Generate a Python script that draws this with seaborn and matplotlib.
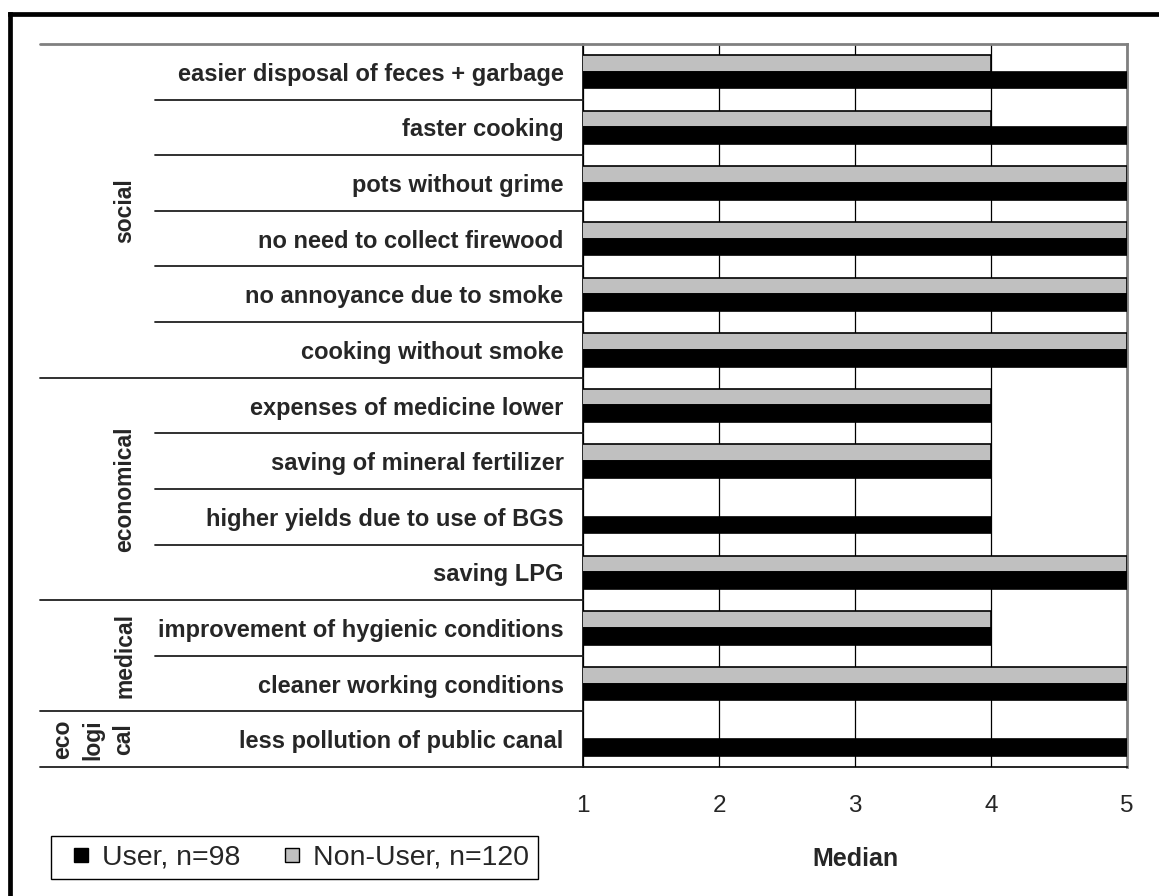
import numpy as np
import pandas as pd
import matplotlib
matplotlib.use("Agg")
import matplotlib.pyplot as plt
import matplotlib.transforms as mtransforms
from matplotlib.lines import Line2D
import seaborn as sns

# Data (top to bottom as in the chart)
items = [
    "easier disposal of feces + garbage",
    "faster cooking",
    "pots without grime",
    "no need to collect firewood",
    "no annoyance due to smoke",
    "cooking without smoke",
    "expenses of medicine lower",
    "saving of mineral fertilizer",
    "higher yields due to use of BGS",
    "saving LPG",
    "improvement of hygienic conditions",
    "cleaner working conditions",
    "less pollution of public canal",
]
groups = ["social", "economical", "medical", "eco\nlogi\ncal"]
group_sizes = [6, 4, 2, 1]
user_median = [5, 5, 5, 5, 5, 5, 4, 4, 4, 5, 4, 5, 5]
nonuser_median = [4, 4, 5, 5, 5, 5, 4, 4, np.nan, 5, 4, 5, np.nan]
user_label = "User, n=98"
nonuser_label = "Non-User, n=120"
x_ticks = [1, 2, 3, 4, 5]

# Style
sns.set_style("white")
plt.rcParams['font.family'] = ['Liberation Sans', 'DejaVu Sans']

df = pd.concat([
    pd.DataFrame({'item': items, 'Median': nonuser_median, 'who': nonuser_label}),
    pd.DataFrame({'item': items, 'Median': user_median, 'who': user_label}),
], ignore_index=True).dropna()

W, H = 1159, 896
fig = plt.figure(figsize=(W / 100, H / 100), dpi=100)
ax = fig.add_axes([583 / W, 1 - 767 / H, (1127 - 583) / W, (767 - 44) / H])

sns.barplot(data=df, y='item', x='Median', hue='who', order=items,
            hue_order=[nonuser_label, user_label],
            palette={nonuser_label: '#C0C0C0', user_label: 'black'},
            orient='h', width=0.6, gap=0, errorbar=None,
            edgecolor='black', linewidth=1.2, legend=False, ax=ax, zorder=3)

ax.set_xlim(1, 5)
ax.set_ylim(len(items) - 0.5, -0.5)
ax.set_xticks(x_ticks)
ax.set_xticklabels([str(t) for t in x_ticks], fontsize=17.5)
ax.xaxis.grid(True, color='black', linewidth=0.9)
ax.yaxis.grid(False)
ax.set_axisbelow(True)

ax.tick_params(axis='x', direction='out', length=6.5, width=1, color='black', pad=13.5)
ax.tick_params(axis='y', length=0, pad=14)
for lab in ax.get_yticklabels():
    lab.set_fontweight('bold')
    lab.set_fontsize(17)
ax.set_ylabel("")
ax.set_xlabel("Median", fontsize=18, fontweight='bold', labelpad=22)

for side in ['left', 'bottom']:
    ax.spines[side].set_color('black')
    ax.spines[side].set_linewidth(1.2)
for side in ['top', 'right']:
    ax.spines[side].set_color('#808080')
    ax.spines[side].set_linewidth(2)

# Separator lines and group labels left of the axis
trans = mtransforms.blended_transform_factory(fig.transFigure, ax.transData)
x_axis = 583 / W
x_item = 155 / W
x_group = 40 / W
start = 0
for g, n in zip(groups, group_sizes):
    top = start - 0.5
    bottom = start + n - 0.5
    color = '#808080' if start == 0 else '#202020'
    fig.add_artist(Line2D([x_group, x_axis], [top, top], transform=trans,
                          color=color, lw=2 if start == 0 else 1.3))
    for k in range(1, n):
        yy = start + k - 0.5
        fig.add_artist(Line2D([x_item, x_axis], [yy, yy], transform=trans,
                              color='#202020', lw=1.3))
    xc = 93 / W if '\n' in g else 125 / W
    fig.text(xc, (top + bottom) / 2, g, transform=trans, rotation=90,
             ha='center', va='center', fontsize=16.5, fontweight='bold',
             linespacing=1.4)
    start += n
fig.add_artist(Line2D([x_group, x_axis], [start - 0.5, start - 0.5],
                      transform=trans, color='#202020', lw=1.3))

# Legend
handles = [
    Line2D([], [], marker='s', linestyle='none', markersize=10,
           markerfacecolor='black', markeredgecolor='black', markeredgewidth=1),
    Line2D([], [], marker='s', linestyle='none', markersize=10,
           markerfacecolor='#C0C0C0', markeredgecolor='black', markeredgewidth=1),
]
leg = fig.legend(handles, [user_label, nonuser_label], loc='center left',
                 bbox_to_anchor=(51 / W, 1 - 857.5 / H), ncol=2,
                 fontsize=20.5, frameon=True, fancybox=False, shadow=False,
                 handlelength=1.5, handletextpad=0.0, columnspacing=1.05,
                 borderpad=0.3, borderaxespad=0)
leg.get_frame().set_edgecolor('black')
leg.get_frame().set_linewidth(1)
leg.get_frame().set_alpha(1)

# Thick frame along top and left edge
fig.add_artist(Line2D([10 / W, 1], [1 - 14 / H, 1 - 14 / H], transform=fig.transFigure,
                      color='black', lw=3.4, solid_capstyle='projecting'))
fig.add_artist(Line2D([10 / W, 10 / W], [0, 1 - 14 / H], transform=fig.transFigure,
                      color='black', lw=3.4, solid_capstyle='projecting'))

fig.savefig("out.png", dpi=100, facecolor='white')
